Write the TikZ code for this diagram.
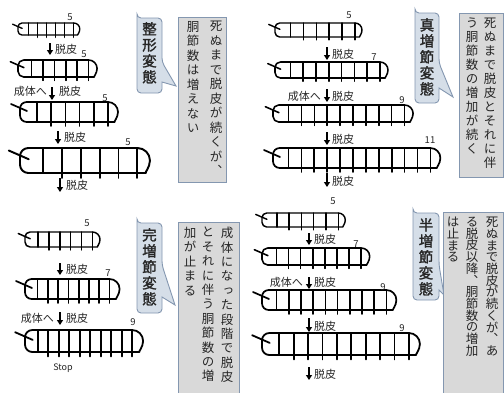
\documentclass[tikz,border=0pt]{standalone}
\usepackage{fontspec}
\setmainfont{Noto Sans CJK JP}
\newfontfamily\jpv[RawFeature=+vert]{Noto Sans CJK JP}
\newfontfamily\jpvb[RawFeature=+vert,FakeBold=1.6]{Noto Sans CJK JP}
\usetikzlibrary{arrows.meta}

\definecolor{calloutfill}{HTML}{D5DEE8}
\definecolor{calloutline}{HTML}{8497B0}
\definecolor{notefill}{HTML}{D9D9D9}
\definecolor{ink}{HTML}{262626}

% vertical (tategaki) column: one character per line, fixed pitch
\makeatletter
\newcommand\tate[2]{\vbox{\baselineskip=#1\relax\lineskiplimit=-\maxdimen
  \@tfor\tate@c:=#2\do{\hbox to 1em{\hss\tate@c\hss}}}}
\makeatother

% segmented larva: x-left, y-centre, height, head width, segment width, segments
\newcommand\larva[6]{%
  \pgfmathsetmacro\lvT{#2-#3/2}%
  \pgfmathsetmacro\lvB{#2+#3/2}%
  \pgfmathsetmacro\lvH{#1+#4}%
  \pgfmathsetmacro\lvE{#1+#4+#6*#5}%
  \pgfmathsetmacro\lvR{#3/2}%
  \pgfmathsetmacro\lvC{#3/3}%
  \pgfmathsetmacro\lvL{#3/5}%
  \pgfmathsetmacro\lvW{0.8+#3/22}%
  \draw[body] (\lvE,\lvT) [rounded corners=\lvC pt] -- (#1,\lvT) -- (#1,\lvB)
     -- (\lvE,\lvB) [sharp corners] arc[start angle=90,end angle=-90,radius=\lvR];
  \foreach \k in {0,...,#6}{\draw[body] ({\lvH+\k*#5},\lvT) -- ({\lvH+\k*#5},\lvB);}
  \foreach \k in {1,...,#6}{\draw[body] ({\lvH+\k*#5},\lvB) -- ++(0,\lvL);}
  \draw[body] ({#1-0.45*#3},{\lvT+0.1*#3}) -- ({#1+0.35*#3},{\lvT+0.45*#3});
}

% rounded label box with a wedge pointing to the note
\newcommand\callout[7]{% x1,y1,x2,y2,p1,p2,tip
  \path[callbox] (#1,#2) [rounded corners=4pt] -- (#3,#2) -- (#3,#5) [sharp corners]
    -- #7 -- (#3,#6) [rounded corners=4pt] -- (#3,#4) -- (#1,#4) -- (#1,#2) -- cycle;
}

\tikzset{
  body/.style={line width=\lvW pt, line join=round, line cap=round, draw=black},
  molt/.style={line width=1.4pt, -{Triangle[length=5pt,width=6pt]}},
  mtext/.style={font=\fontsize{11}{12}\selectfont, text=ink, inner sep=0},
  num/.style={font=\fontsize{9.5}{10}\selectfont, text=ink, inner sep=0},
  callbox/.style={draw=calloutline, fill=calloutfill, line width=0.9pt},
  notebox/.style={draw=calloutline, fill=notefill, line width=0.9pt},
  calltext/.style={font=\jpvb\fontsize{14.5}{16}\selectfont, text=ink, inner sep=0, anchor=north},
  notetext/.style={font=\jpv\fontsize{12.5}{14.5}\selectfont, text=ink, inner sep=0, anchor=north},
}

\begin{document}
\begin{tikzpicture}[x=1pt,y=-1pt]
\useasboundingbox (0,0) rectangle (504,392);
\fill[white] (0,0) rectangle (504,392);

% ---------- 整形変態 ----------
\larva{18}{29}{12}{10.8}{9.0}{5}
\larva{18}{68.5}{17}{13.6}{11.4}{5}
\larva{20}{112}{20}{17}{14.2}{5}
\larva{20}{160.5}{25}{22.7}{18.95}{5}
\node[num] (a1n) at (70,17) {5};
\node[num] (a2n) at (84,54) {5};
\node[num] (a3n) at (105,98) {5};
\node[num] (a4n) at (128,142) {5};
\coordinate (a1s) at (50,43); \coordinate (a1e) at (50,55);
\coordinate (a2s) at (52,87); \coordinate (a2e) at (52,100);
\coordinate (a3s) at (58,131); \coordinate (a3e) at (58,144);
\coordinate (a4s) at (60,178); \coordinate (a4e) at (60,192);
\draw[molt] (a1s) -- (a1e);
\draw[molt] (a2s) -- (a2e);
\draw[molt] (a3s) -- (a3e);
\draw[molt] (a4s) -- (a4e);
\node[mtext,anchor=west] (a1t) at (55,49) {脱皮};
\node[mtext,anchor=east] (a2a) at (47,91) {成体へ};
\node[mtext,anchor=west] (a2t) at (59,91) {脱皮};
\node[mtext,anchor=west] (a3t) at (64,137) {脱皮};
\node[mtext,anchor=west] (a4t) at (66,185) {脱皮};

\callout{137}{18}{162}{93}{62}{82}{(176,86)}
\node[calltext] (c1) at (149.5,22) {\tate{16pt}{整形変態}};
\path[notebox] (178,17) rectangle (226,182);
\node[notetext] (n1a) at (216,21) {\tate{14.5pt}{死ぬまで脱皮が続くが、}};
\node[notetext] (n1b) at (193,21) {\tate{14.5pt}{胴節数は増えない}};

% ---------- 真増節変態 ----------
\larva{275}{30}{14}{15.5}{12.9}{5}
\larva{275}{70}{16}{15.4}{12.8}{7}
\larva{273}{113.5}{17}{15.5}{12.9}{9}
\larva{273}{158}{20}{15.5}{12.9}{11}
\node[num] (b1n) at (349,15) {5};
\node[num] (b2n) at (374,57) {7};
\node[num] (b3n) at (402,100) {9};
\node[num] (b4n) at (430,140) {11};
\coordinate (b1s) at (327,47); \coordinate (b1e) at (327,60);
\coordinate (b2s) at (327,89); \coordinate (b2e) at (327,102);
\coordinate (b3s) at (327,132); \coordinate (b3e) at (327,145);
\coordinate (b4s) at (327,173); \coordinate (b4e) at (327,187);
\draw[molt] (b1s) -- (b1e);
\draw[molt] (b2s) -- (b2e);
\draw[molt] (b3s) -- (b3e);
\draw[molt] (b4s) -- (b4e);
\node[mtext,anchor=west] (b1t) at (332,54) {脱皮};
\node[mtext,anchor=east] (b2a) at (321,96) {成体へ};
\node[mtext,anchor=west] (b2t) at (332,96) {脱皮};
\node[mtext,anchor=west] (b3t) at (332,139) {脱皮};
\node[mtext,anchor=west] (b4t) at (332,181) {脱皮};

\callout{415}{13}{439}{103}{63}{88}{(453,97)}
\node[calltext] (c2) at (427,18) {\tate{16pt}{真増節変態}};
\path[notebox] (459,13) rectangle (503,177);
\node[notetext] (n2a) at (490,18) {\tate{14pt}{死ぬまで脱皮とそれに伴}};
\node[notetext] (n2b) at (472,18) {\tate{14pt}{う胴節数の増加が続く}};

% ---------- 完増節変態 ----------
\larva{25}{239.5}{15}{13}{10.9}{5}
\larva{25}{289}{20}{12.5}{10.3}{7}
\larva{25}{341}{22}{12.6}{10.5}{9}
\node[num] (c1n) at (87,223) {5};
\node[num] (c2n) at (108,273) {7};
\node[num] (c3n) at (133,322) {9};
\coordinate (c1s) at (60,263); \coordinate (c1e) at (60,275);
\coordinate (c2s) at (60,312); \coordinate (c2e) at (60,325);
\draw[molt] (c1s) -- (c1e);
\draw[molt] (c2s) -- (c2e);
\node[mtext,anchor=west] (c1t) at (66,269) {脱皮};
\node[mtext,anchor=east] (c2a) at (54,318) {成体へ};
\node[mtext,anchor=west] (c2t) at (66,318) {脱皮};
\node[font=\fontsize{9}{10}\selectfont, text=ink, inner sep=0] (stop) at (63,368) {Stop};

\callout{137}{223}{162}{313}{265}{297}{(175,305)}
\node[calltext] (c3) at (149.5,228) {\tate{16pt}{完増節変態}};
\path[notebox] (178,222) rectangle (239,393);
\node[notetext] (n3a) at (227,227) {\tate{14.4pt}{成体になった段階で脱皮}};
\node[notetext] (n3b) at (208,227) {\tate{14.4pt}{とそれに伴う胴節数の増}};
\node[notetext] (n3c) at (190,227) {\tate{14.4pt}{加が止まる}};

% ---------- 半増節変態 ----------
\larva{262}{220}{14}{14.8}{12.3}{5}
\larva{262}{256.5}{17}{14.5}{12.1}{7}
\larva{262}{300}{20}{14.6}{12.2}{9}
\larva{262}{344}{22}{17.3}{14.4}{9}
\node[num] (d1n) at (333,201) {5};
\node[num] (d2n) at (356,244) {7};
\node[num] (d3n) at (383,287) {9};
\node[num] (d4n) at (402,328) {9};
\coordinate (d1s) at (309,233); \coordinate (d1e) at (309,245);
\coordinate (d2s) at (309,277); \coordinate (d2e) at (309,289);
\coordinate (d3s) at (309,318); \coordinate (d3e) at (309,332);
\coordinate (d4s) at (309,367); \coordinate (d4e) at (309,380);
\draw[molt] (d1s) -- (d1e);
\draw[molt] (d2s) -- (d2e);
\draw[molt] (d3s) -- (d3e);
\draw[molt] (d4s) -- (d4e);
\node[mtext,anchor=west] (d1t) at (314,239) {脱皮};
\node[mtext,anchor=east] (d2a) at (303,282) {成体へ};
\node[mtext,anchor=west] (d2t) at (314,282) {脱皮};
\node[mtext,anchor=west] (d3t) at (314,326) {脱皮};
\node[mtext,anchor=west] (d4t) at (314,374) {脱皮};

\callout{413}{213}{439}{300}{265}{290}{(444,295)}
\node[calltext] (c4) at (426,218) {\tate{16pt}{半増節変態}};
\path[notebox] (443,212) rectangle (503,393);
\node[notetext] (n4a) at (492,217) {\tate{11.7pt}{死ぬまで脱皮が続くが、あ}};
\node[notetext] (n4b) at (472,217) {\tate{11.7pt}{る脱皮以降、胴節数の増加}};
\node[notetext] (n4c) at (453,217) {\tate{11.7pt}{は止まる}};
\end{tikzpicture}
\end{document}
